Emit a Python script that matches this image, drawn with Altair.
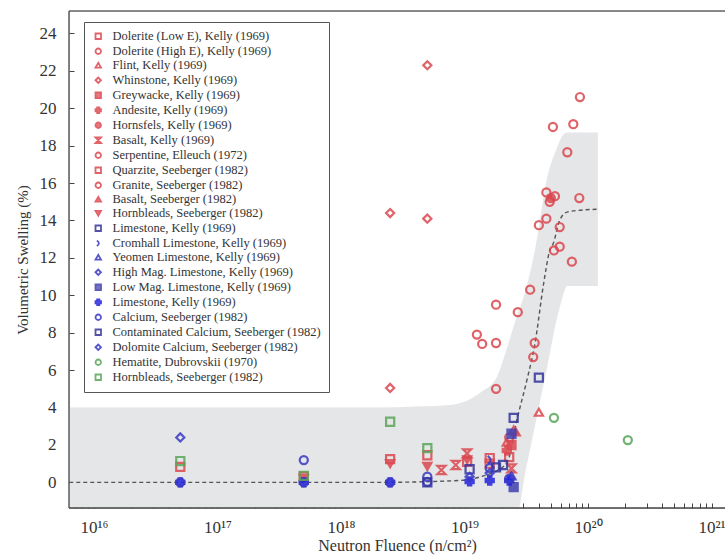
import json
import altair as alt
import pandas as pd

# ---------------- data ----------------
series_names = [
    "Dolerite (Low E), Kelly (1969)",
    "Dolerite (High E), Kelly (1969)",
    "Flint, Kelly (1969)",
    "Whinstone, Kelly (1969)",
    "Greywacke, Kelly (1969)",
    "Andesite, Kelly (1969)",
    "Hornsfels, Kelly (1969)",
    "Basalt, Kelly (1969)",
    "Serpentine, Elleuch (1972)",
    "Quarzite, Seeberger (1982)",
    "Granite, Seeberger (1982)",
    "Basalt, Seeberger (1982)",
    "Hornbleads, Seeberger (1982)",
    "Limestone, Kelly (1969)",
    "Cromhall Limestone, Kelly (1969)",
    "Yeomen Limestone, Kelly (1969)",
    "High Mag. Limestone, Kelly (1969)",
    "Low Mag. Limestone, Kelly (1969)",
    "Limestone, Kelly (1969) ",
    "Calcium, Seeberger (1982)",
    "Contaminated Calcium, Seeberger (1982)",
    "Dolomite Calcium, Seeberger (1982)",
    "Hematite, Dubrovskii (1970)",
    "Hornbleads, Seeberger (1982) ",
]

HOURGLASS = "M-1,-1L1,-1L-1,1L1,1Z"
ARC = "M-0.5,-1Q1,0 -0.5,1"
series_shapes = [
    "square", "circle", "triangle-up", "diamond", "square", "cross", "circle",
    HOURGLASS, "circle", "square", "circle", "triangle-up", "triangle-down",
    "square", ARC, "triangle-up", "diamond", "square", "cross", "circle",
    "square", "diamond", "circle", "square",
]
R, N, B, BB, G = "#dc4850", "#35359f", "#3a3ac4", "#2222dd", "#5aa65a"
series_strokes = [R] * 13 + [N, B, B, B, "#4040b0", BB, B, N, B, G, G]
T = "transparent"
series_fills = [T, T, T, T, R, R, R, T, T, T, T, R, R,
                T, T, T, T, "#4040b0", BB, T, T, T, T, T]

# point data: series index (into series_names), fluence (n/cm^2), swelling (%)
pt_series = (
    [0, 0, 0]
    + [1, 1, 1, 1]
    + [2, 2, 2]
    + [3, 3, 3, 3]
    + [4]
    + [5]
    + [6]
    + [7, 7, 7, 7]
    + [8, 8, 8, 8, 8, 8]
    + [9, 9, 9, 9, 9]
    + [10] * 14
    + [11]
    + [12, 12, 12, 12]
    + [13, 13, 13]
    + [14]
    + [15]
    + [16]
    + [17, 17]
    + [18, 18, 18, 18, 18, 18]
    + [19, 19, 19, 19, 19, 19, 19, 19]
    + [20, 20, 20]
    + [21, 21]
    + [22, 22]
    + [23, 23, 23, 23]
)
pt_fluence = (
    [1.05e19, 2.3e19, 1.6e19]
    + [1.8e19, 3.6e19, 3.7e19, 2.3e19]
    + [4.0e19, 2.2e19, 2.5e19]
    + [2.5e18, 5e18, 5e18, 2.5e18]
    + [2.4e19]
    + [2.2e19]
    + [5.0e19]
    + [6.5e18, 8.5e18, 1.05e19, 2.4e19]
    + [1.26e19, 1.39e19, 1.8e19, 1.8e19, 2.7e19, 3.4e19]
    + [5e16, 5e17, 5e18, 1.6e19, 2.5e18]
    + [8.6e19, 5.2e19, 7.6e19, 6.8e19, 4.6e19, 5.4e19, 4.9e19, 8.5e19,
       4.6e19, 4.0e19, 5.9e19, 5.9e19, 5.3e19, 7.4e19]
    + [2.6e19]
    + [2.5e18, 5e18, 5e17, 1.05e19]
    + [4.0e19, 2.5e19, 1.1e19]
    + [1.6e19]
    + [2.4e19]
    + [5e16]
    + [2.4e19, 2.5e19]
    + [5e16, 5e17, 2.5e18, 1.1e19, 1.6e19, 2.3e19]
    + [5e16, 5e17, 5e17, 2.5e18, 5e18, 5e18, 1.6e19, 2.3e19]
    + [1.8e19, 2.05e19, 5e18]
    + [1.1e19, 1.6e19]
    + [5.3e19, 2.1e20]
    + [5e16, 5e17, 2.5e18, 5e18]
)
pt_swelling = (
    [1.1, 1.35, 1.0]
    + [5.0, 6.7, 7.45, 2.4]
    + [3.75, 2.15, 2.8]
    + [14.4, 22.3, 14.1, 5.05]
    + [2.0]
    + [1.7]
    + [15.2]
    + [0.66, 0.93, 1.55, 0.75]
    + [7.9, 7.4, 7.45, 9.5, 9.1, 10.3]
    + [0.83, 0.3, 1.45, 1.3, 1.24]
    + [20.6, 19.0, 19.15, 17.65, 15.5, 15.3, 15.0, 15.2,
       14.1, 13.75, 13.65, 12.6, 12.4, 11.8]
    + [2.7]
    + [1.0, 0.85, 0.2, 1.2]
    + [5.6, 3.45, 0.7]
    + [1.2]
    + [0.35]
    + [2.4]
    + [2.6, -0.25]
    + [0.0, 0.0, 0.0, 0.05, 0.1, 0.1]
    + [0.0, 0.0, 1.19, 0.0, 0.03, 0.3, 0.76, 0.2]
    + [0.8, 0.93, 0.0]
    + [0.3, 0.5]
    + [3.45, 2.26]
    + [1.14, 0.35, 3.24, 1.83]
)

# grey band (log10 fluence, lower and upper swelling)
band_exp = [15.7, 18.0, 18.3, 18.6, 18.9, 19.13, 19.26, 19.34, 19.41, 19.5,
            19.57, 19.67, 19.75, 19.79, 19.83, 19.9, 20.08]
band_low = [-2, -2, -2, -2, -2, -2, -2, -2, -2, 0.8,
            3.0, 6.2, 8.8, 9.8, 10.5, 10.5, 10.5]
band_high = [4.0, 4.0, 4.0, 4.05, 4.15, 4.8, 5.6, 7.1, 8.6, 10.4,
             12.4, 16.3, 17.9, 18.5, 18.7, 18.7, 18.7]

# dashed trend curve (log10 fluence, swelling)
trend_exp = [15.8, 18.3, 18.96, 19.13, 19.34, 19.43, 19.51, 19.57, 19.64,
             19.69, 19.72, 19.77, 19.83, 19.94, 20.07]
trend_val = [0, 0, 0.1, 0.3, 1.0, 3.5, 5.6, 7.4, 10.6, 12.4, 12.8, 14.0,
             14.45, 14.55, 14.6]

x_tick_labels = ["10¹⁶", "10¹⁷", "10¹⁸", "10¹⁹", "10²⁰", "10²¹"]
y_ticks = [0, 2, 4, 6, 8, 10, 12, 14, 16, 18, 20, 22, 24]

# ---------------- chart ----------------
W, H = 656, 497
XDOM = [10 ** 15.798, 10 ** 21.109]
YDOM = [-1.37, 25.2]
FONT = "'Liberation Serif', 'Times New Roman', serif"

pts = pd.DataFrame({
    "series": [series_names[i] for i in pt_series],
    "fluence": pt_fluence,
    "swelling": pt_swelling,
})
band = pd.DataFrame({"fluence": [10 ** e for e in band_exp],
                     "low": band_low, "high": band_high})
trend = pd.DataFrame({"fluence": [10 ** e for e in trend_exp],
                      "swelling": trend_val})

minor_vals = [m * 10.0 ** d for d in range(15, 22) for m in range(1, 10)]
minor_vals = [v for v in minor_vals if XDOM[0] <= v <= XDOM[1]]
lg = "round(log(datum.value)/LN10)"
label_expr = (f"abs(log(datum.value)/LN10 - {lg}) < 0.001 ? "
              f"{json.dumps(x_tick_labels, ensure_ascii=False)}[{lg} - 16] : ''")

xscale = alt.Scale(type="log", domain=XDOM, nice=False)
yscale = alt.Scale(domain=YDOM, nice=False, zero=False)

x_axis = alt.Axis(values=minor_vals, labelExpr=label_expr, tickSize=5,
                  offset=-5, domain=False, grid=False, labelPadding=11,
                  labelOverlap=False, labelFlush=False, labelFont=FONT,
                  labelFontSize=17, labelColor="#333", tickColor="#444",
                  title="Neutron Fluence (n/cm²)", titleFont=FONT,
                  titleFontSize=16, titleFontWeight="normal",
                  titleColor="#333", titlePadding=2)
y_axis = alt.Axis(values=y_ticks, tickSize=5, offset=-5, domain=False,
                  grid=False, labelPadding=13, labelFont=FONT,
                  labelFontSize=17, labelColor="#333", tickColor="#444",
                  title="Volumetric Swelling (%)", titleFont=FONT,
                  titleFontSize=15, titleFontWeight="normal",
                  titleColor="#333", titlePadding=9)

band_layer = alt.Chart(band).mark_area(color="#e4e6e7", interpolate="monotone",
                                       clip=True).encode(
    x=alt.X("fluence:Q", scale=xscale, axis=x_axis),
    y=alt.Y("low:Q", scale=yscale, axis=y_axis),
    y2="high:Q",
)

trend_layer = alt.Chart(trend).mark_line(color="#555", strokeDash=[4, 3],
                                         strokeWidth=1.4, interpolate="monotone",
                                         clip=True).encode(
    x=alt.X("fluence:Q", scale=xscale),
    y=alt.Y("swelling:Q", scale=yscale),
)

legend = alt.Legend(title=None, orient="none", legendX=15, legendY=11,
                    strokeColor="#555", fillColor="white", padding=8,
                    labelFont=FONT, labelFontSize=12.5, labelColor="#333",
                    symbolSize=30, symbolStrokeWidth=1.8, rowPadding=1.0,
                    labelOffset=8, labelLimit=400)

point_layer = alt.Chart(pts).mark_point(size=66, strokeWidth=2.2, opacity=0.85,
                                        clip=True).encode(
    x=alt.X("fluence:Q", scale=xscale),
    y=alt.Y("swelling:Q", scale=yscale),
    shape=alt.Shape("series:N", scale=alt.Scale(domain=series_names,
                                                range=series_shapes),
                    legend=legend),
    stroke=alt.Stroke("series:N", scale=alt.Scale(domain=series_names,
                                                  range=series_strokes),
                      legend=legend),
    fill=alt.Fill("series:N", scale=alt.Scale(domain=series_names,
                                              range=series_fills),
                  legend=legend),
)

frame_data = alt.Data(values=[{}])
top_rule = alt.Chart(frame_data).mark_rule(color="#666", strokeWidth=1.6).encode(
    x=alt.value(0), x2=alt.value(W), y=alt.value(0))
left_rule = alt.Chart(frame_data).mark_rule(color="#444", strokeWidth=1.3).encode(
    x=alt.value(0), y=alt.value(0), y2=alt.value(H))
bottom_rule = alt.Chart(frame_data).mark_rule(color="#444", strokeWidth=1.3).encode(
    x=alt.value(0), x2=alt.value(W), y=alt.value(H))

chart = alt.layer(band_layer, trend_layer, point_layer,
                  top_rule, left_rule, bottom_rule).properties(
    width=W, height=H,
    autosize=alt.AutoSizeParams(type="none"),
    padding={"left": 69, "top": 11, "right": 0, "bottom": 49},
).configure_view(stroke=None).configure(background="white")

chart.save("out.html", embed_options={"renderer": "svg", "actions": False})
